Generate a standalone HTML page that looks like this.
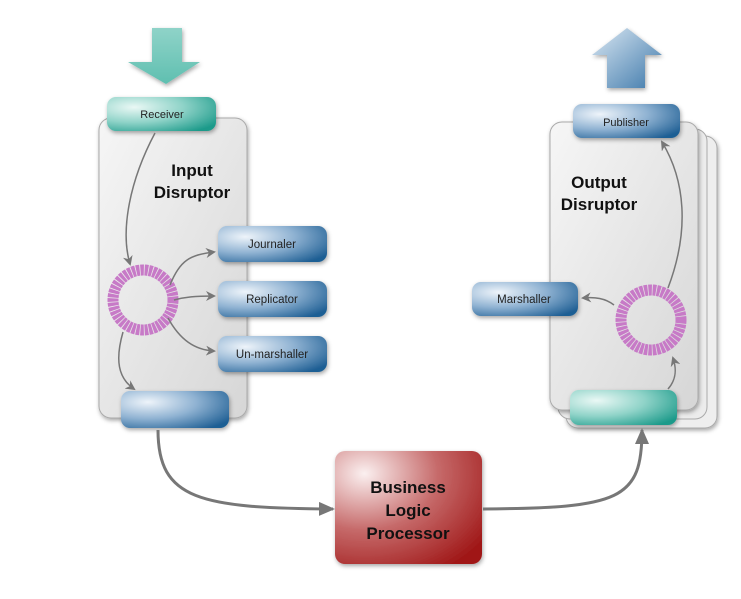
<!DOCTYPE html>
<html><head><style>
html,body{margin:0;padding:0;background:#fff;}
svg{display:block;font-family:"Liberation Sans",sans-serif;}
</style></head><body>
<svg width="741" height="599" viewBox="0 0 741 599" xmlns="http://www.w3.org/2000/svg">
<defs>
<linearGradient id="cont" x1="0" y1="0" x2="1" y2="1"><stop offset="0" stop-color="#f6f6f6"/><stop offset="1" stop-color="#d6d6d6"/></linearGradient>
<radialGradient id="blue" cx="0.25" cy="0.3" r="0.9"><stop offset="0" stop-color="#eef4fa"/><stop offset="0.5" stop-color="#8fb2d2"/><stop offset="1" stop-color="#1f5f94"/></radialGradient>
<radialGradient id="teal" cx="0.25" cy="0.3" r="0.9"><stop offset="0" stop-color="#eaf8f5"/><stop offset="0.5" stop-color="#8fd3c8"/><stop offset="1" stop-color="#1c9a8a"/></radialGradient>
<radialGradient id="red" cx="0.2" cy="0.2" r="1"><stop offset="0" stop-color="#fbf0f0"/><stop offset="0.5" stop-color="#c66a6a"/><stop offset="1" stop-color="#a01818"/></radialGradient>
<linearGradient id="tealArr" x1="0" y1="0" x2="0" y2="1"><stop offset="0" stop-color="#8fd3c8"/><stop offset="1" stop-color="#5fbfb0"/></linearGradient>
<linearGradient id="blueArr" x1="0" y1="0" x2="1" y2="1"><stop offset="0" stop-color="#dbe8f3"/><stop offset="1" stop-color="#3d78aa"/></linearGradient>
<filter id="sh" x="-20%" y="-20%" width="140%" height="140%"><feDropShadow dx="1" dy="2" stdDeviation="2" flood-color="#000" flood-opacity="0.35"/></filter>
<marker id="ah" markerWidth="10" markerHeight="10" refX="8" refY="5" orient="auto" markerUnits="userSpaceOnUse"><path d="M0,0 L10,5 L0,10 L3,5 z" fill="#777"/></marker>
<marker id="ahb" markerWidth="16" markerHeight="14" refX="14" refY="7" orient="auto" markerUnits="userSpaceOnUse"><path d="M0,0 L16,7 L0,14 z" fill="#777"/></marker>
</defs>

<!-- input arrow -->
<path d="M152,28 H182 V62 H200 L166,84 L128,62 H152 Z" fill="url(#tealArr)" filter="url(#sh)"/>
<!-- input container -->
<rect x="99" y="118" width="148" height="300" rx="12" fill="url(#cont)" stroke="#aaa" filter="url(#sh)"/>
<rect x="107" y="97" width="109" height="34" rx="9" fill="url(#teal)" filter="url(#sh)"/>
<text x="162" y="118" font-size="11" text-anchor="middle" fill="#222">Receiver</text>
<text x="192" y="176" font-size="17" font-weight="bold" text-anchor="middle" fill="#111">Input</text>
<text x="192" y="198" font-size="17" font-weight="bold" text-anchor="middle" fill="#111">Disruptor</text>

<rect x="218" y="226" width="109" height="36" rx="9" fill="url(#blue)" filter="url(#sh)"/>
<text x="272" y="248" font-size="11.5" text-anchor="middle" fill="#222">Journaler</text>
<rect x="218" y="281" width="109" height="36" rx="9" fill="url(#blue)" filter="url(#sh)"/>
<text x="272" y="303" font-size="11.5" text-anchor="middle" fill="#222">Replicator</text>
<rect x="218" y="336" width="109" height="36" rx="9" fill="url(#blue)" filter="url(#sh)"/>
<text x="272" y="358" font-size="11.5" text-anchor="middle" fill="#222">Un-marshaller</text>
<rect x="121" y="391" width="108" height="37" rx="9" fill="url(#blue)" filter="url(#sh)"/>

<circle cx="143" cy="300" r="30" fill="none" stroke="#c77ac7" stroke-width="11" stroke-dasharray="3.4 0.8"/>

<path d="M155,133 C130,180 120,230 130,264" fill="none" stroke="#777" stroke-width="1.5" marker-end="url(#ah)"/>
<path d="M170,285 C180,260 190,255 214,252" fill="none" stroke="#777" stroke-width="1.5" marker-end="url(#ah)"/>
<path d="M174,300 C185,297 195,296 214,296" fill="none" stroke="#777" stroke-width="1.5" marker-end="url(#ah)"/>
<path d="M168,318 C180,340 195,350 214,351" fill="none" stroke="#777" stroke-width="1.5" marker-end="url(#ah)"/>
<path d="M123,332 C115,360 118,378 134,389" fill="none" stroke="#777" stroke-width="1.5" marker-end="url(#ah)"/>

<!-- output -->
<path d="M607,88 V55 H592 L627,28 L662,55 H645 V88 Z" fill="url(#blueArr)" filter="url(#sh)"/>
<rect x="566" y="136" width="151" height="292" rx="12" fill="#eee" stroke="#aaa" filter="url(#sh)"/>
<rect x="558" y="129" width="149" height="290" rx="12" fill="#ececec" stroke="#aaa"/>
<rect x="550" y="122" width="148" height="288" rx="12" fill="url(#cont)" stroke="#aaa" filter="url(#sh)"/>
<rect x="573" y="104" width="107" height="34" rx="9" fill="url(#blue)" filter="url(#sh)"/>
<text x="626" y="126" font-size="11" text-anchor="middle" fill="#222">Publisher</text>
<text x="599" y="188" font-size="17" font-weight="bold" text-anchor="middle" fill="#111">Output</text>
<text x="599" y="210" font-size="17" font-weight="bold" text-anchor="middle" fill="#111">Disruptor</text>
<rect x="472" y="282" width="106" height="34" rx="9" fill="url(#blue)" filter="url(#sh)"/>
<text x="524" y="303" font-size="11.5" text-anchor="middle" fill="#222">Marshaller</text>
<rect x="570" y="390" width="107" height="35" rx="9" fill="url(#teal)" filter="url(#sh)"/>
<circle cx="651" cy="320" r="30" fill="none" stroke="#c77ac7" stroke-width="11" stroke-dasharray="3.4 0.8"/>

<path d="M668,288 C690,230 685,180 662,142" fill="none" stroke="#777" stroke-width="1.5" marker-end="url(#ah)"/>
<path d="M614,305 C605,298 595,297 583,298" fill="none" stroke="#777" stroke-width="1.5" marker-end="url(#ah)"/>
<path d="M668,389 C676,380 677,370 673,358" fill="none" stroke="#777" stroke-width="1.5" marker-end="url(#ah)"/>

<!-- business -->
<rect x="335" y="451" width="147" height="113" rx="10" fill="url(#red)" filter="url(#sh)"/>
<text x="408" y="493" font-size="17" font-weight="bold" text-anchor="middle" fill="#111">Business</text>
<text x="408" y="516" font-size="17" font-weight="bold" text-anchor="middle" fill="#111">Logic</text>
<text x="408" y="539" font-size="17" font-weight="bold" text-anchor="middle" fill="#111">Processor</text>

<path d="M158,430 C158,500 200,508 333,509" fill="none" stroke="#777" stroke-width="3" marker-end="url(#ahb)"/>
<path d="M483,509 C620,508 642,500 642,430" fill="none" stroke="#777" stroke-width="3" marker-end="url(#ahb)"/>
</svg>
</body></html>
